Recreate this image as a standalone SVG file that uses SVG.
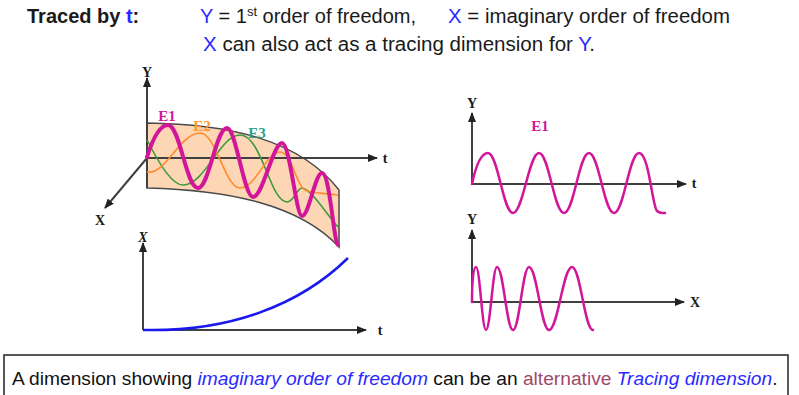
<svg xmlns="http://www.w3.org/2000/svg" width="799" height="395" viewBox="0 0 799 395">
<style>
.hd{font-family:"Liberation Sans",Arial,sans-serif;font-size:20px;fill:#1a1a1a}
.b{fill:#2a2aff}
.ax{stroke:#404040;stroke-width:2;fill:none}
.lbl{font-family:"Liberation Serif","Times New Roman",serif;font-weight:bold;font-size:14px;fill:#1a1a1a;text-anchor:middle}
.el{font-family:"Liberation Serif","Times New Roman",serif;font-weight:bold;font-size:15px;text-anchor:middle}
.mg{stroke:#d2169a;fill:none;stroke-linecap:round}
.ft{font-family:"Liberation Sans",Arial,sans-serif;font-size:19.2px;fill:#111}
.fb{fill:#2a2aff;font-style:italic}
.fa{fill:#a04a6a}
</style>
<defs>
<marker id="ah" markerUnits="userSpaceOnUse" markerWidth="10" markerHeight="8" refX="9" refY="4" orient="auto">
<path d="M0,0 L10,4 L0,8 Z" fill="#222"/>
</marker>
</defs>
<rect width="799" height="395" fill="#fff"/>

<g id="header">
<text class="hd" x="27" y="23" font-weight="bold">Traced by <tspan class="b">t</tspan>:</text>
<text class="hd" x="200" y="23"><tspan class="b">Y</tspan> = 1<tspan font-size="13" dy="-7">st</tspan><tspan dy="7"> order of freedom,</tspan></text>
<text class="hd" x="448" y="23" textLength="282" lengthAdjust="spacingAndGlyphs"><tspan class="b">X</tspan> = imaginary order of freedom</text>
<text class="hd" x="203" y="51" textLength="392" lengthAdjust="spacingAndGlyphs"><tspan class="b">X</tspan> can also act as a tracing dimension for <tspan class="b">Y</tspan>.</text>
</g>

<g id="chart3d">
<path d="M147,123 C230,124 300,140 339,190 L339,247 C300,205 230,190 147,188 Z" fill="#fdd6b6" stroke="#4a4a4a" stroke-width="1.5"/>
<line class="ax" x1="147" y1="188" x2="147" y2="78" marker-end="url(#ah)" stroke-width="1.6"/>
<line class="ax" x1="147" y1="158" x2="377" y2="158" marker-end="url(#ah)" stroke-width="1.6"/>
<line class="ax" x1="147" y1="158" x2="105" y2="208" marker-end="url(#ah)" stroke-width="1.6"/>
<path d="M147,140 C160,165 172,185 183,185 C205,185 220,135 240,135 C262,135 270,202 287,202 C294,202 297,188 302,188 C312,190 325,212 338,227" fill="none" stroke="#3c9a3c" stroke-width="1.6"/>
<path d="M147,172 C165,176 180,133 200,133 C216,133 225,188 240,188 C256,188 266,152 280,152 C292,152 296,186 305,190 C315,194 325,193 338,195" fill="none" stroke="#ff8a2a" stroke-width="1.6"/>
<path class="mg" stroke-width="4" d="M147,157 C153,138 160,125 168,125 C180,125 186,188 198,188 C209,188 216,128 227,128 C236,128 244,197 253,197 C263,197 273,143 282,143 C290,143 296,216 302,216 C309,216 315,173 322,173 C330,173 334,245 338,245"/>
<text class="lbl" x="147" y="77">Y</text>
<text class="lbl" x="385" y="163">t</text>
<text class="lbl" x="100" y="225">X</text>
<text class="el" x="167" y="121" fill="#d2169a">E1</text>
<text class="el" x="202" y="131" fill="#ff9a2a">E2</text>
<text class="el" x="257" y="138" fill="#2aa08a">E3</text>
</g>

<g id="chartXt">
<line class="ax" x1="143" y1="330" x2="143" y2="243" marker-end="url(#ah)"/>
<line class="ax" x1="143" y1="330" x2="366" y2="330" marker-end="url(#ah)"/>
<path d="M143,330 C230,332 300,305 348,258" fill="none" stroke="#1a1aee" stroke-width="2.5"/>
<text class="lbl" x="143" y="242" font-style="italic">X</text>
<text class="lbl" x="380" y="335">t</text>
</g>

<g id="chartYt">
<line class="ax" x1="472" y1="184" x2="472" y2="113" marker-end="url(#ah)"/>
<line class="ax" x1="472" y1="184" x2="686" y2="184" marker-end="url(#ah)"/>
<path class="mg" stroke-width="2.5" d="M472,184 C476,165 481,153 488,153 C498,153 503,213 513,213 C523,213 529,153 539,153 C549,153 554,213 564,213 C574,213 579,153 589,153 C599,153 604,213 614,213 C624,213 629,153 639,153 C649,153 652,205 657,211 C660,214 663,213 665,213"/>
<text class="lbl" x="472" y="108">Y</text>
<text class="lbl" x="694" y="188">t</text>
<text class="el" x="540" y="131" fill="#d2169a" font-size="12">E1</text>
</g>

<g id="chartYX">
<line class="ax" x1="472" y1="302" x2="472" y2="230" marker-end="url(#ah)"/>
<line class="ax" x1="472" y1="302" x2="684" y2="302" marker-end="url(#ah)"/>
<path class="mg" stroke-width="2.5" d="M472,302 C472,284 473,267 476,267 C480,267 482,330 486,330 C490.4,330 492.6,267 497,267 C503.4,267 506.6,330 513,330 C519.4,330 522.6,267 529,267 C537,267 541,330 549,330 C558,330 563,267 572,267 C580.5,267 584.5,330 593,330"/>
<text class="lbl" x="472" y="224">Y</text>
<text class="lbl" x="695" y="307">X</text>
</g>

<g id="footer">
<rect x="4" y="355" width="784" height="45" fill="none" stroke="#222" stroke-width="1.5"/>
<text class="ft" x="12" y="385">A dimension showing <tspan class="fb">imaginary order of freedom</tspan> can be an <tspan class="fa">alternative</tspan> <tspan class="fb">Tracing dimension</tspan>.</text>
</g>
</svg>
